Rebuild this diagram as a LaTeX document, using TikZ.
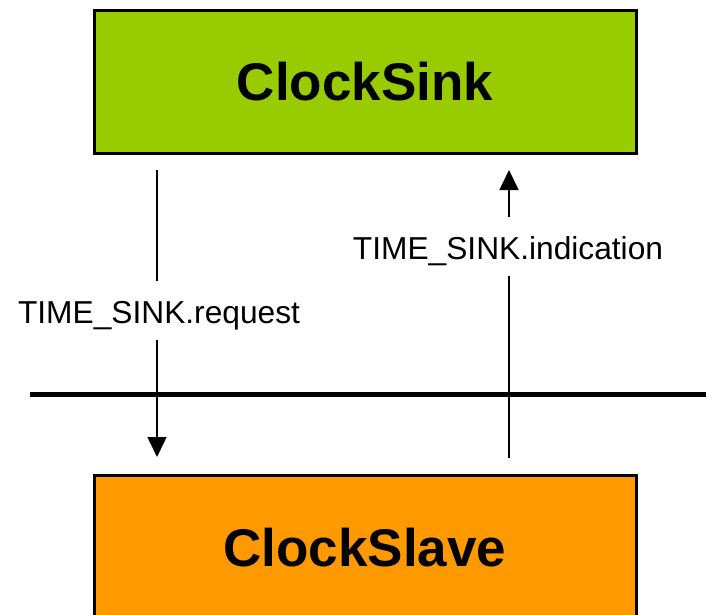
\documentclass[tikz,border=0pt]{standalone}
\usepackage{fontspec}
\setmainfont{Liberation Sans}
\usetikzlibrary{arrows.meta}
\definecolor{sinkgreen}{HTML}{99CC00}
\definecolor{slaveorange}{HTML}{FF9900}
\begin{document}
\begin{tikzpicture}[x=1pt,y=-1pt,
  entity/.style={draw=black,line width=3pt,minimum width=542pt,inner sep=0pt,
    font=\fontsize{53}{60}\selectfont\bfseries},
  msglabel/.style={inner sep=0pt,anchor=base,text height=42pt,text depth=17pt,
    font=\fontsize{31.7}{36}\selectfont},
  msgline/.style={line width=1.6pt},
  msgarrow/.style={line width=1.6pt,-{Triangle[width=19pt,length=20pt]}},
  bus/.style={line width=5pt}]
\useasboundingbox (0,0) rectangle (706,615);
\clip (0,0) rectangle (706,615);
\node[entity,fill=sinkgreen,minimum height=142pt] (sink) at (365,82) {ClockSink};
\node[entity,fill=slaveorange,minimum height=145pt] (slave) at (365,547.5) {ClockSlave};
\coordinate (busL) at (30,394);
\coordinate (busR) at (706,394);
\draw[bus] (busL) -- (busR);
% request
\coordinate (reqtop) at (157,170);
\coordinate (reqend) at (157,457);
\node[msglabel] (reqlab) at (159,323) {TIME\_SINK.request};
\draw[msgline] (reqtop) -- (reqtop |- reqlab.north);
\draw[msgarrow] (reqend |- reqlab.south) -- (reqend);
% indication
\coordinate (indbot) at (509,458);
\coordinate (indend) at (509,170);
\node[msglabel] (indlab) at (508,259) {TIME\_SINK.indication};
\draw[msgline] (indbot) -- (indbot |- indlab.south);
\draw[msgarrow] (indend |- indlab.north) -- (indend);
\end{tikzpicture}
\end{document}
